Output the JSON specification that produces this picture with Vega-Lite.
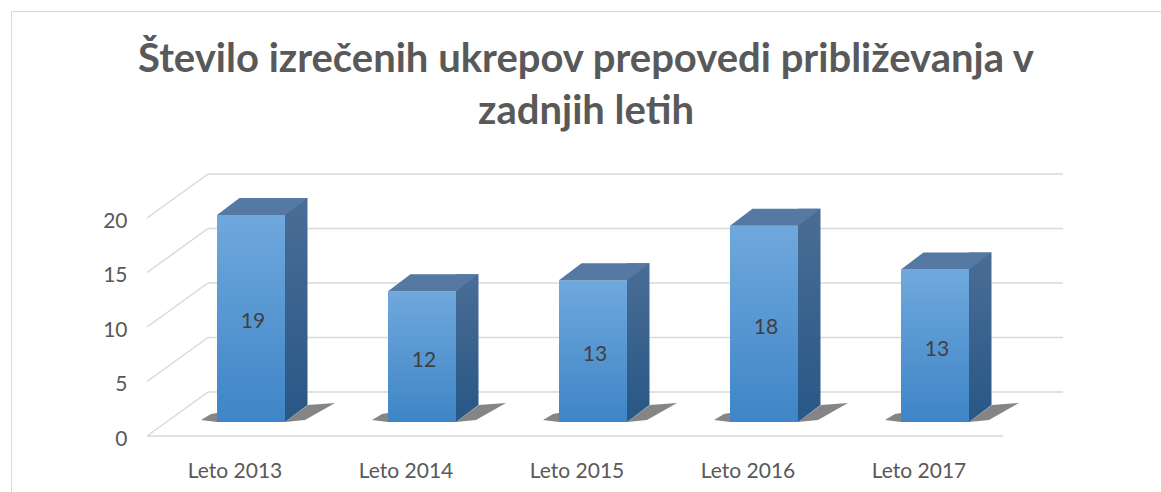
{
  "$schema": "https://vega.github.io/schema/vega-lite/v6.json",
  "width": 1150,
  "height": 481,
  "autosize": {"type": "none"},
  "padding": {"left": 11, "top": 11, "right": 0, "bottom": 0},
  "background": "white",
  "config": {"view": {"stroke": "#d9d9d9", "strokeWidth": 1}, "font": "Lato"},
  "title": {
    "text": ["Število izrečenih ukrepov prepovedi približevanja v", "zadnjih letih"],
    "font": "Lato",
    "fontSize": 40,
    "fontWeight": "bold",
    "color": "#595959",
    "lineHeight": 52,
    "anchor": "middle",
    "frame": "group",
    "offset": -121
  },
  "datasets": {
    "bars": [
      {"year": "Leto 2013", "count": 19, "label": 19},
      {"year": "Leto 2014", "count": 12, "label": 12},
      {"year": "Leto 2015", "count": 13, "label": 13},
      {"year": "Leto 2016", "count": 18, "label": 18},
      {"year": "Leto 2017", "count": 14, "label": 13}
    ],
    "ticks": [{"v": 0}, {"v": 5}, {"v": 10}, {"v": 15}, {"v": 20}]
  },
  "data": {"name": "bars"},
  "encoding": {
    "x": {
      "field": "year",
      "type": "nominal",
      "sort": null,
      "scale": {"range": [138.5, 993.5], "paddingInner": 0, "paddingOuter": 0},
      "axis": {
        "title": null,
        "labelAngle": 0,
        "orient": "bottom",
        "offset": -32,
        "labelPadding": 0,
        "ticks": false,
        "domain": false,
        "grid": false,
        "labelFontSize": 21,
        "labelColor": "#595959",
        "labelFont": "Lato"
      }
    }
  },
  "layer": [
    {
      "data": {"name": "ticks"},
      "mark": {"type": "rule", "color": "#d9d9d9", "strokeWidth": 1.5, "yOffset": -30},
      "encoding": {
        "x": {"value": 197},
        "x2": {"value": 1052},
        "y": {
          "field": "v",
          "type": "quantitative",
          "scale": {"domain": [0, 20], "range": [411, 193], "nice": false, "zero": false},
          "axis": {
            "values": [0, 5, 10, 15, 20],
            "title": null,
            "orient": "left",
            "offset": -116,
            "labelPadding": 0,
            "ticks": false,
            "domain": false,
            "grid": false,
            "labelFontSize": 21,
            "labelColor": "#595959",
            "labelOffset": 17,
            "labelFont": "Lato"
          }
        }
      }
    },
    {
      "layer": [
        {
          "data": {"name": "ticks"},
          "mark": {"type": "rule", "color": "#d9d9d9", "strokeWidth": 1.5, "yOffset": 14, "y2Offset": -30},
          "encoding": {
            "x": {"value": 136},
            "x2": {"value": 197},
            "y": {
              "field": "v",
              "type": "quantitative",
              "scale": {"domain": [0, 20], "range": [411, 193], "nice": false, "zero": false},
              "axis": null
            },
            "y2": {"field": "v"}
          }
        },
        {
          "data": {"name": "ticks"},
          "transform": [{"filter": "datum.v == 0"}],
          "mark": {"type": "rule", "color": "#d9d9d9", "strokeWidth": 1.5, "yOffset": 14},
          "encoding": {
            "x": {"value": 136},
            "x2": {"value": 992},
            "y": {"field": "v", "type": "quantitative", "axis": null}
          }
        },
        {
          "mark": {
            "type": "point",
            "filled": true,
            "opacity": 1,
            "fill": "#333333",
            "fillOpacity": 0.6,
            "strokeWidth": 0,
            "size": 10000,
            "xOffset": 16,
            "shape": "M0.68,0L1.14,-0.34L1.68,-0.38L1.08,-0.04Z M-0.68,0L-1.0,-0.04L-0.8,-0.16L-0.68,-0.18Z"
          },
          "encoding": {"y": {"datum": 0, "type": "quantitative", "axis": null}}
        },
        {
          "mark": {
            "type": "bar",
            "width": 22.5,
            "xOffset": 61.25,
            "yOffset": -17,
            "y2Offset": -17,
            "fill": {
              "gradient": "linear", "x1": 0, "y1": 0, "x2": 0, "y2": 1,
              "stops": [{"offset": 0, "color": "#4a6d96"}, {"offset": 1, "color": "#2b5987"}]
            }
          },
          "encoding": {
            "y": {"field": "count", "type": "quantitative", "axis": null},
            "y2": {"datum": 0}
          }
        },
        {
          "mark": {
            "type": "point",
            "filled": true,
            "opacity": 1,
            "fill": "#2b5987",
            "strokeWidth": 0,
            "size": 10000,
            "xOffset": 16,
            "shape": "M0.68,-0.34L0.68,0L1.13,-0.34Z"
          },
          "encoding": {"y": {"datum": 0, "type": "quantitative", "axis": null}}
        },
        {
          "mark": {
            "type": "bar",
            "width": 68,
            "xOffset": 16,
            "fill": {
              "gradient": "linear", "x1": 0, "y1": 0, "x2": 0, "y2": 1,
              "stops": [{"offset": 0, "color": "#6fa8dc"}, {"offset": 1, "color": "#3e85c7"}]
            }
          },
          "encoding": {
            "y": {"field": "count", "type": "quantitative", "axis": null},
            "y2": {"datum": 0}
          }
        },
        {
          "mark": {
            "type": "point",
            "filled": true,
            "opacity": 1,
            "fill": "#5679a3",
            "strokeWidth": 0,
            "size": 10000,
            "xOffset": 16,
            "shape": "M-0.68,0L0.68,0L1.13,-0.34L-0.23,-0.34Z"
          },
          "encoding": {"y": {"field": "count", "type": "quantitative", "axis": null}}
        }
      ]
    },
    {
      "mark": {"type": "text", "fontSize": 21, "color": "#404040", "xOffset": 18, "yOffset": 4, "baseline": "middle", "font": "Lato"},
      "encoding": {
        "y": {
          "field": "count",
          "type": "quantitative",
          "scale": {"domain": [0, 20], "range": [411, 302], "nice": false, "zero": false},
          "axis": null
        },
        "text": {"field": "label", "type": "quantitative"}
      }
    }
  ],
  "resolve": {"scale": {"y": "independent"}, "axis": {"y": "independent"}}
}
